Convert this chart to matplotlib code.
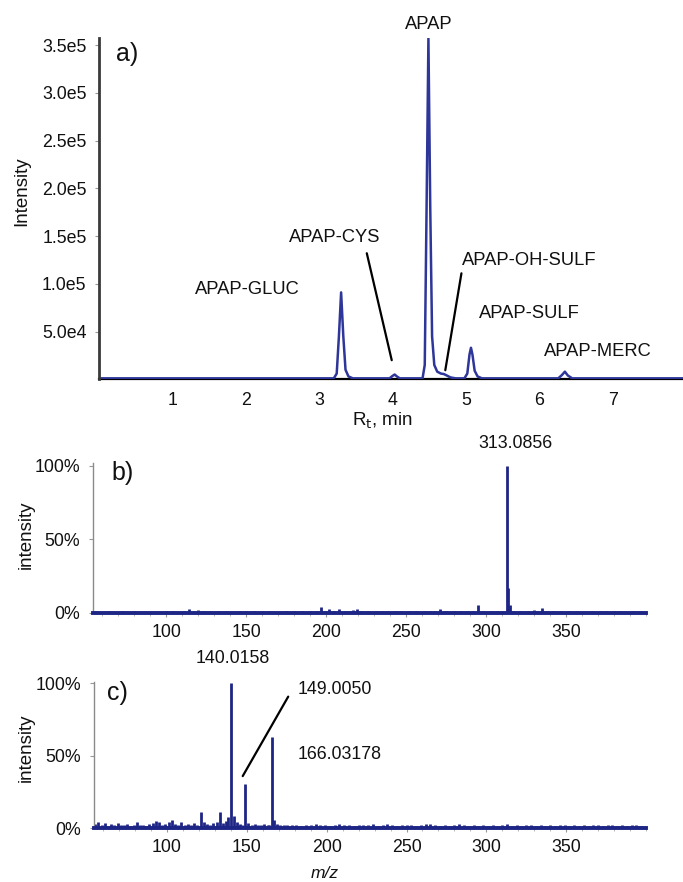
import matplotlib
matplotlib.use("Agg")
import matplotlib.pyplot as plt
from matplotlib.ticker import MultipleLocator

plt.rcParams['font.family'] = ['Liberation Sans', 'DejaVu Sans']

# ---------------- data ----------------
# a) chromatogram (retention time in min, intensity)
rt = [0.00, 3.20, 3.24, 3.27, 3.30, 3.33, 3.36, 3.40, 3.46,
      3.96, 4.00, 4.03, 4.06, 4.10,
      4.41, 4.44, 4.465, 4.49, 4.515, 4.54, 4.57, 4.61, 4.66, 4.70, 4.74, 4.79, 4.86,
      4.98, 5.02, 5.05, 5.07, 5.09, 5.12, 5.16, 5.22,
      6.26, 6.31, 6.35, 6.39, 6.45, 7.96]
chrom = [1000, 1000, 6000, 45000, 91000, 45000, 10000, 3000, 1000,
         1000, 3500, 5000, 3000, 1000,
         1000, 15000, 180000, 357000, 180000, 45000, 15000, 8000, 6000, 5500, 4000, 2000, 1000,
         1000, 6000, 26000, 33000, 26000, 9000, 3000, 1000,
         1000, 4500, 8000, 4000, 1000, 1000]
chrom_labels = ["APAP-GLUC", "APAP-CYS", "APAP", "APAP-OH-SULF", "APAP-SULF", "APAP-MERC"]
chrom_yticks = [5.0e4, 1.0e5, 1.5e5, 2.0e5, 2.5e5, 3.0e5, 3.5e5]
chrom_yticklabels = ["5.0e4", "1.0e5", "1.5e5", "2.0e5", "2.5e5", "3.0e5", "3.5e5"]
chrom_xticks = [1, 2, 3, 4, 5, 6, 7]

# b) mass spectrum (m/z, relative intensity %)
b_mz = [56, 60, 64, 68, 72, 76, 80, 84, 88, 92, 96, 100, 104, 108, 111, 114, 117, 120, 123,
        127, 132, 137, 141, 146, 150, 155, 160, 164, 169, 175, 180, 185, 190, 194, 197, 199,
        202, 205, 208, 212, 215, 217, 219, 222, 226, 231, 235, 238, 243, 247, 252, 256, 261,
        265, 268, 271, 275, 280, 284, 288, 292, 295, 298, 303, 307, 310, 313.0856, 314, 315,
        317, 321, 326, 330, 332, 335, 338, 342, 347, 352, 357, 362, 366, 371, 375, 380, 384,
        389, 392, 396]
b_int = [1.0, 0.8, 0.9, 0.7, 1.0, 0.8, 0.9, 0.8, 0.7, 0.6, 0.8, 1.0, 0.9, 0.8, 1.0, 2.2, 1.0, 2.0, 1.4,
         1.0, 0.9, 1.1, 0.8, 1.0, 1.2, 0.9, 1.0, 1.1, 0.8, 1.0, 0.9, 1.0, 1.1, 1.3, 3.6, 1.2,
         2.3, 1.0, 2.5, 1.1, 1.0, 2.0, 2.2, 1.0, 1.2, 1.0, 1.4, 1.1, 0.9, 1.2, 1.0, 1.2, 0.9,
         1.0, 1.1, 2.8, 1.0, 0.9, 1.1, 1.2, 1.0, 5.4, 1.2, 1.0, 1.1, 1.0, 100.0, 17.0, 5.5,
         1.2, 1.0, 1.1, 1.8, 1.2, 3.2, 1.1, 1.0, 1.2, 0.9, 1.0, 0.8, 1.1, 0.9, 1.0, 0.9, 1.0,
         0.8, 1.1, 0.9]
b_label = "313.0856"

# c) mass spectrum (m/z, relative intensity %)
c_mz = [55, 57, 59, 61, 63, 65, 67, 69, 71, 73, 75, 77, 79, 81, 83, 85, 87, 89, 91, 93, 95, 97,
        99, 101, 103, 105, 107, 109, 111, 113, 115, 117, 119, 121, 123, 125, 127, 129, 131, 133,
        135, 137, 138, 140.0158, 142, 144, 146, 147, 149.0050, 151, 153, 155, 157, 159, 161,
        163, 164, 166.03178, 167, 169, 171, 173, 175,
        178, 181, 184, 187, 190, 193, 196, 199, 202, 205, 208, 211, 214, 217, 220, 223, 226,
        229, 232, 235, 238, 241, 244, 247, 250, 253, 256, 259, 262, 265, 268, 271, 274, 277,
        280, 283, 286, 289, 292, 295, 298, 301, 304, 307, 310, 313, 316, 319, 322, 325, 328,
        331, 334, 337, 340, 343, 346, 349, 352, 355, 358, 361, 364, 367, 370, 373, 376, 379,
        382, 385, 388, 391, 394, 397]
c_int = [3.0, 4.5, 2.0, 3.5, 1.5, 3.0, 2.0, 3.5, 2.0, 2.5, 3.0, 1.5, 2.5, 4.0, 2.0, 2.5, 1.5, 3.0,
         3.5, 5.0, 4.0, 2.5, 3.0, 4.5, 5.5, 3.0, 2.0, 4.0, 2.5, 3.0, 2.0, 3.5, 2.0, 11.5, 4.0,
         3.0, 2.0, 3.5, 4.0, 11.0, 3.5, 5.0, 8.0, 100.0, 8.7, 4.0, 3.0, 2.0, 30.3, 3.5, 2.0, 3.0,
         2.5, 2.0, 3.0, 2.5, 2.0, 63.2, 6.0, 3.0, 2.5, 2.0, 2.5,
         2.0, 2.5, 1.5, 2.0, 2.5, 3.0, 2.0, 2.5, 1.5, 2.0, 3.0, 2.5, 2.0, 1.5, 2.0, 2.5, 2.0,
         3.0, 1.5, 2.0, 3.0, 2.0, 1.5, 2.0, 2.5, 2.0, 1.5, 2.0, 3.0, 3.0, 2.5, 1.5, 2.0, 1.5,
         2.0, 3.0, 2.0, 1.5, 2.0, 1.5, 2.5, 1.5, 2.0, 1.5, 2.0, 3.0, 1.5, 2.0, 1.5, 2.5, 2.0,
         1.5, 2.0, 1.5, 2.0, 1.5, 2.0, 2.5, 1.5, 2.0, 1.5, 2.0, 1.5, 2.0, 2.5, 1.5, 2.0, 2.5,
         1.5, 2.0, 1.5, 2.0, 2.5, 1.5]
c_labels = ["140.0158", "149.0050", "166.03178"]

pct_ticks = [0, 50, 100]
pct_labels = ["0%", "50%", "100%"]
mz_ticks = [100, 150, 200, 250, 300, 350]

# ---------------- figure ----------------
W, H = 683, 882
fig = plt.figure(figsize=(W / 100, H / 100), dpi=100)

def box(left, top, right, bottom):
    return [left / W, 1 - bottom / H, (right - left) / W, (bottom - top) / H]

line_col = "#2e3699"
spec_col = "#1d2585"
txt = "#111111"

# ----- panel a -----
ax = fig.add_axes(box(99, 37.7, 683, 379.3))
ax.plot(rt, chrom, color=line_col, lw=1.8, solid_joinstyle='round')
ax.set_xlim(0, 7.96)
ax.set_ylim(0, 3.577e5)
for s in ("top", "right"):
    ax.spines[s].set_visible(False)
ax.spines["left"].set_color("#3a3a3a")
ax.spines["left"].set_linewidth(2.0)
ax.spines["bottom"].set_color("#000000")
ax.spines["bottom"].set_linewidth(1.6)
ax.spines["bottom"].set_zorder(0)
ax.set_yticks(chrom_yticks)
ax.set_yticklabels(chrom_yticklabels)
ax.set_xticks(chrom_xticks)
ax.tick_params(axis="y", length=3, width=0.8, color="#999999", pad=6, labelsize=12.8, labelcolor=txt)
ax.tick_params(axis="x", length=0, pad=9, labelsize=12.8, labelcolor=txt)

kw = dict(fontsize=13.2, color=txt, ha="center", va="center")
ax.text(2.02, 0.945e5, chrom_labels[0], **kw)
ax.text(3.21, 1.48e5, chrom_labels[1], **kw)
ax.text(4.49, 3.72e5, chrom_labels[2], clip_on=False, **kw)
ax.text(5.86, 1.24e5, chrom_labels[3], **kw)
ax.text(5.86, 0.69e5, chrom_labels[4], **kw)
ax.text(6.80, 0.29e5, chrom_labels[5], **kw)
ax.annotate("", xy=(3.99, 0.20e5), xytext=(3.65, 1.32e5),
            arrowprops=dict(arrowstyle="-", lw=1.6, color="black", shrinkA=0, shrinkB=0))
ax.annotate("", xy=(4.72, 0.095e5), xytext=(4.94, 1.11e5),
            arrowprops=dict(arrowstyle="-", lw=1.6, color="black", shrinkA=0, shrinkB=0))

fig.text(22 / W, 1 - 191 / H, "Intensity", rotation=90, fontsize=13.5, ha="center", va="center", color=txt)
fig.text(382 / W, 1 - 421 / H, r"R$_\mathrm{t}$, min", fontsize=13.5, ha="center", va="center", color=txt)
fig.text(127 / W, 1 - 54 / H, "a)", fontsize=18, ha="center", va="center", color=txt)

# ----- spectra panels -----
def spectrum_axes(rect, mz, inten):
    a = fig.add_axes(rect)
    a.vlines(mz, 0, inten, color=spec_col, lw=2.0)
    a.set_xlim(54, 400)
    for s in ("top", "right"):
        a.spines[s].set_visible(False)
    a.spines["left"].set_color("#8a8a8a")
    a.spines["left"].set_linewidth(1.0)
    a.spines["bottom"].set_color(spec_col)
    a.spines["bottom"].set_linewidth(2.8)
    a.set_yticks(pct_ticks)
    a.set_yticklabels(pct_labels)
    a.set_xticks(mz_ticks)
    a.xaxis.set_minor_locator(MultipleLocator(10))
    a.tick_params(axis="y", length=3, width=0.8, color="#999999", pad=6, labelsize=12.8, labelcolor=txt)
    a.tick_params(axis="x", which="major", length=3, width=0.8, color="#999999", pad=5,
                  labelsize=12.8, labelcolor=txt)
    a.tick_params(axis="x", which="minor", length=2, width=0.6, color="#aaaaaa")
    return a

axb = spectrum_axes(box(92.8, 463, 646, 612.7), b_mz, b_int)
axb.set_ylim(0, 101.8)
axb.text(318.5, 115.4, b_label, fontsize=12.8, color=txt, ha="center", va="center", clip_on=False)
fig.text(26 / W, 1 - 535 / H, "intensity", rotation=90, fontsize=13.5, ha="center", va="center", color=txt)
fig.text(123 / W, 1 - 473 / H, "b)", fontsize=18, ha="center", va="center", color=txt)

axc = spectrum_axes(box(93.6, 681.7, 646, 828.3), c_mz, c_int)
axc.set_ylim(0, 101.1)
axc.text(141, 117.4, c_labels[0], fontsize=12.8, color=txt, ha="center", va="center", clip_on=False)
axc.text(181.6, 95.4, c_labels[1], fontsize=12.8, color=txt, ha="left", va="center")
axc.text(181.9, 50.6, c_labels[2], fontsize=12.8, color=txt, ha="left", va="center")
axc.annotate("", xy=(147.4, 36.0), xytext=(175.9, 90.8),
             arrowprops=dict(arrowstyle="-", lw=1.6, color="black", shrinkA=0, shrinkB=0))
fig.text(26 / W, 1 - 748 / H, "intensity", rotation=90, fontsize=13.5, ha="center", va="center", color=txt)
fig.text(117 / W, 1 - 693 / H, "c)", fontsize=18, ha="center", va="center", color=txt)
fig.text(324.5 / W, 1 - 874 / H, "m/z", fontsize=12.5, style="italic", ha="center", va="center", color=txt)

fig.savefig("out.png", dpi=100)
